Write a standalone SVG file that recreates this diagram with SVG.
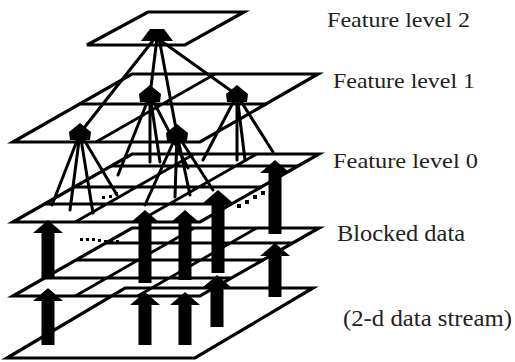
<svg xmlns="http://www.w3.org/2000/svg" width="515" height="362" viewBox="0 0 515 362">
<style>
.pl{fill:none;stroke:#000;stroke-width:3.2;stroke-linejoin:miter}
.gr{fill:none;stroke:#000;stroke-width:2.8}
.cn{fill:none;stroke:#000;stroke-width:3;stroke-linecap:round}
.ar{fill:#000}
.hd{fill:#000}
.dt{fill:#000}
.lb{font-family:"Liberation Serif","Times New Roman",serif;fill:#222}
</style>
<rect width="515" height="362" fill="#fff"/>
<g id="stream">
<polygon class="pl" points="125,288 313,288 195,358 7,358"/>
</g>
<g id="blocked-data">
<polygon class="pl" points="132,228 319,228 200,296 13,296"/>
<path class="gr" d="M106,243H293M76,260H263M44,278H231M194.3,228L75.3,296M256.7,228L137.7,296"/>
</g>
<g id="feature-level-0">
<polygon class="pl" points="132,154 319,154 200,222 13,222"/>
<path class="gr" d="M111,166H298M75,187H262M44,204H231M194.3,154L75.3,222M256.7,154L137.7,222"/>
</g>
<g id="feature-level-1">
<polygon class="pl" points="132,74 318,74 200,142 13,142"/>
<path class="gr" d="M80,104H267M215,74L96,142"/>
</g>
<g id="feature-level-2">
<polygon class="pl" points="148,12 244,12 185,45 87,45"/>
</g>
<g id="connectors">
<path class="cn" d="M157,38L150,95M157,38L237,95M155,38L80,133M159,38L177,134"/>
<path class="cn" d="M80,133L52,205M80,133L93,213M80,133L117,195M80,133L70,210"/>
<path class="cn" d="M150,95L118,175M150,95L150,162M150,95L160,162M150,95L188,168"/>
<path class="cn" d="M177,134L145,205M177,134L175,197M177,134L190,195M177,134L213,190"/>
<path class="cn" d="M237,95L203,160M237,95L237,160M237,95L245,160M237,95L273,152"/>
</g>
<g id="node-apex"><polygon class="hd" points="150,29 164,29 173,41 141,41"/></g>
<g id="node-1a"><polygon class="hd" points="150,85 161,94 160,102 140,102 139,94"/></g>
<g id="node-1b"><polygon class="hd" points="237,85 248,94 247,102 227,102 226,94"/></g>
<g id="node-1c"><polygon class="hd" points="80,123 91,132 90,140 70,140 69,132"/></g>
<g id="node-1d"><polygon class="hd" points="177,124 188,133 187,141 167,141 166,133"/></g>
<g id="flow-arrows">
<polygon class="ar" points="48,220 63,233 54.5,233 54.5,278 41.5,278 41.5,233 33,233"/>
<polygon class="ar" points="145,210 160,223 151.5,223 151.5,283 138.5,283 138.5,223 130,223"/>
<polygon class="ar" points="185,210 200,223 191.5,223 191.5,280 178.5,280 178.5,223 170,223"/>
<polygon class="ar" points="218,190 233,203 224.5,203 224.5,273 211.5,273 211.5,203 203,203"/>
<polygon class="ar" points="275,160 290,173 281.5,173 281.5,234 268.5,234 268.5,173 260,173"/>
<polygon class="ar" points="48,288 63,301 54.5,301 54.5,345 41.5,345 41.5,301 33,301"/>
<polygon class="ar" points="145,292 160,305 151.5,305 151.5,345 138.5,345 138.5,305 130,305"/>
<polygon class="ar" points="185,292 200,305 191.5,305 191.5,345 178.5,345 178.5,305 170,305"/>
<polygon class="ar" points="217,275 232,288 223.5,288 223.5,327 210.5,327 210.5,288 202,288"/>
<polygon class="ar" points="275,243 290,256 281.5,256 281.5,297 268.5,297 268.5,256 260,256"/>
</g>
<g id="ellipses">
<rect class="dt" x="80" y="238" width="3" height="3"/>
<rect class="dt" x="86" y="238" width="3" height="3"/>
<rect class="dt" x="92" y="238" width="3" height="3"/>
<rect class="dt" x="98" y="239" width="3" height="3"/>
<rect class="dt" x="104" y="240" width="3" height="3"/>
<rect class="dt" x="110" y="240" width="3" height="3"/>
<rect class="dt" x="116" y="240" width="3" height="3"/>
<rect class="dt" x="102" y="196" width="3" height="3"/>
<rect class="dt" x="109" y="195" width="3" height="3"/>
<rect class="dt" x="115" y="192" width="3" height="3"/>
<rect class="dt" x="237" y="204" width="4" height="4"/>
<rect class="dt" x="245" y="200" width="4" height="4"/>
<rect class="dt" x="253" y="195" width="4" height="4"/>
<rect class="dt" x="261" y="191" width="4" height="4"/>
</g>
<g id="labels">
<text class="lb" x="327" y="27" font-size="22" textLength="143" lengthAdjust="spacingAndGlyphs">Feature level 2</text>
<text class="lb" x="333" y="88" font-size="22" textLength="142" lengthAdjust="spacingAndGlyphs">Feature level 1</text>
<text class="lb" x="333" y="168" font-size="22" textLength="145" lengthAdjust="spacingAndGlyphs">Feature level 0</text>
<text class="lb" x="337" y="241" font-size="23" textLength="128" lengthAdjust="spacingAndGlyphs">Blocked data</text>
<text class="lb" x="343" y="326" font-size="23" textLength="169" lengthAdjust="spacingAndGlyphs">(2-d data stream)</text>
</g>
</svg>
